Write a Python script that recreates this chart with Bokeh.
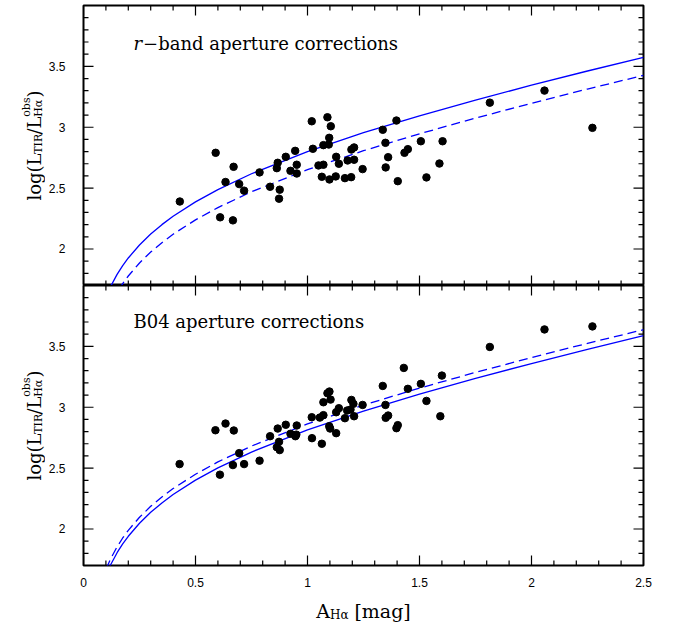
import math
from bokeh.plotting import figure
from bokeh.layouts import gridplot
from bokeh.models import FixedTicker, LinearAxis, Label, Range1d, CustomJSTickFormatter
from bokeh.embed import file_html
from bokeh.resources import INLINE

# ---------------- data ----------------
# top panel: r-band aperture corrections
A_R = [0.43, 0.59, 0.61, 0.634, 0.67, 0.667, 0.695, 0.717, 0.786, 0.833,
       0.867, 0.863, 0.876, 0.873, 0.903, 0.924, 0.945, 0.952, 0.952, 1.019,
       1.024, 1.049, 1.071, 1.064, 1.071, 1.089, 1.097, 1.095, 1.104, 1.098,
       1.126, 1.128, 1.140, 1.167, 1.179, 1.195, 1.196, 1.208, 1.208, 1.246,
       1.336, 1.397, 1.348, 1.360, 1.349, 1.403, 1.433, 1.448, 1.506, 1.531,
       1.589, 1.603, 1.814, 2.058, 2.272]
LOG_R = [2.39, 2.79, 2.26, 2.55, 2.675, 2.235, 2.533, 2.479, 2.629, 2.511,
         2.708, 2.664, 2.487, 2.413, 2.757, 2.642, 2.806, 2.692, 2.620, 3.049,
         2.823, 2.686, 2.692, 2.593, 2.853, 3.082, 2.913, 2.858, 3.008, 2.571,
         2.596, 2.757, 2.700, 2.582, 2.727, 2.590, 2.817, 2.834, 2.733, 2.656,
         2.979, 3.055, 2.872, 2.754, 2.670, 2.557, 2.790, 2.820, 2.885, 2.588,
         2.702, 2.885, 3.202, 3.301, 2.995]

# bottom panel: B04 aperture corrections
A_B = [0.429, 0.589, 0.634, 0.671, 0.609, 0.667, 0.695, 0.717, 0.786, 0.833,
       0.867, 0.863, 0.873, 0.876, 0.903, 0.924, 0.952, 0.946, 0.950, 1.019,
       1.020, 1.055, 1.071, 1.064, 1.071, 1.089, 1.098, 1.103, 1.097, 1.101,
       1.128, 1.128, 1.140, 1.167, 1.177, 1.196, 1.205, 1.208, 1.192, 1.246,
       1.336, 1.430, 1.348, 1.349, 1.360, 1.397, 1.403, 1.448, 1.506, 1.531,
       1.600, 1.593, 1.814, 2.058, 2.272]
LOG_B = [2.533, 2.811, 2.866, 2.809, 2.446, 2.525, 2.623, 2.533, 2.561, 2.762,
         2.825, 2.672, 2.716, 2.648, 2.856, 2.782, 2.850, 2.762, 2.775, 2.918,
         2.746, 2.915, 2.935, 2.700, 3.041, 3.115, 3.129, 3.063, 2.844, 2.825,
         2.787, 2.959, 2.992, 2.910, 2.973, 3.060, 3.028, 2.926, 2.981, 3.019,
         3.175, 3.323, 3.019, 2.913, 2.932, 2.828, 2.853, 3.151, 3.192, 3.052,
         3.260, 2.926, 3.495, 3.639, 3.664]

# model curves
A_CURVE = [0.08, 0.09, 0.10, 0.12, 0.15, 0.175, 0.2, 0.25, 0.3, 0.35, 0.4,
           0.5, 0.6, 0.75, 1.0, 1.25, 1.5, 1.75, 2.0, 2.25, 2.5]
R_SOLID = [1.503, 1.557, 1.604, 1.688, 1.791, 1.863, 1.926, 2.033, 2.123, 2.200, 2.269,
           2.387, 2.488, 2.618, 2.800, 2.955, 3.094, 3.223, 3.345, 3.462, 3.574]
R_DASHED = [1.355, 1.409, 1.456, 1.540, 1.643, 1.715, 1.778, 1.885, 1.975, 2.052, 2.121,
            2.239, 2.340, 2.470, 2.652, 2.807, 2.946, 3.075, 3.197, 3.314, 3.426]
B_SOLID = [1.517, 1.571, 1.618, 1.702, 1.805, 1.877, 1.940, 2.047, 2.137, 2.214, 2.283,
           2.401, 2.502, 2.632, 2.814, 2.969, 3.108, 3.237, 3.359, 3.476, 3.588]
B_DASHED = [1.566, 1.620, 1.667, 1.751, 1.854, 1.926, 1.989, 2.096, 2.186, 2.263, 2.332,
            2.450, 2.551, 2.681, 2.863, 3.018, 3.157, 3.286, 3.408, 3.525, 3.637]

X_TICKS = [0, 0.5, 1, 1.5, 2, 2.5]
Y_TICKS = [2, 2.5, 3, 3.5]
TITLE_TOP = ("r", "\u2212band aperture corrections")
TITLE_BOTTOM = "B04 aperture corrections"
X_LABEL = ("A", "H\u03b1", "[mag]")
Y_LABEL = ("log(", "L", "TIR", "/", "L", "obs", "H\u03b1", ")")

# ---------------- layout constants ----------------
X0, X1 = 0.0, 2.5
Y0, Y1 = 1.7, 4.0
FW, FH = 560, 280
STRIP_W = 45          # column holding the y-axis titles
AX_W = 38             # room for the y tick labels
RIGHT = 37
TOP = 5
BOT_AX = 30           # room for the x tick labels
XL_H = 628 - TOP - FH - FH - BOT_AX   # row holding the x-axis title
PXX = FW / (X1 - X0)
PXY = FH / (Y1 - Y0)
SERIF = "DejaVu Serif"
SANS = "Liberation Sans"
BLUE = "#0000ff"
MAJ_LEN, MIN_LEN = 10, 5

X_MINOR = [round(0.1 * i, 1) for i in range(0, 26)]
Y_MINOR = [round(1.7 + 0.1 * i, 1) for i in range(0, 24)]

EM = {'l': .320, 'o': .602, 'g': .640, '(': .390, ')': .390, 'L': .648, '/': .337,
      'T': .667, 'I': .372, 'R': .712, 'b': .640, 's': .513, 'H': .872, '\u03b1': .660,
      'A': .722, '[': .390, ']': .390, 'm': .948, 'a': .596, ' ': .318, 'r': .478}


def tw(t, size):
    return sum(EM.get(c, .6) for c in t) * size


def label_axis(p, loc):
    tk = FixedTicker(ticks=X_TICKS if loc == "below" else Y_TICKS)
    ax = LinearAxis(ticker=tk)
    ax.axis_line_color = None
    ax.major_tick_in = 0
    ax.major_tick_out = 0
    ax.minor_tick_in = 0
    ax.minor_tick_out = 0
    ax.formatter = CustomJSTickFormatter(code="return tick.toString();")
    ax.major_label_text_font = SANS
    ax.major_label_text_font_size = "12px"
    ax.major_label_text_color = "black"
    ax.major_label_standoff = 12 if loc == "below" else 18
    p.add_layout(ax, loc)


def add_ticks(p):
    x0s, y0s, x1s, y1s = [], [], [], []
    dy_maj, dy_min = MAJ_LEN / PXY, MIN_LEN / PXY
    dx_maj, dx_min = MAJ_LEN / PXX, MIN_LEN / PXX
    for x in X_MINOR:
        major = any(abs(x - t) < 1e-9 for t in X_TICKS)
        d = dy_maj if major else dy_min
        x0s += [x, x]; x1s += [x, x]
        y0s += [Y0, Y1]; y1s += [Y0 + d, Y1 - d]
    for y in Y_MINOR:
        major = any(abs(y - t) < 1e-9 for t in Y_TICKS)
        d = dx_maj if major else dx_min
        y0s += [y, y]; y1s += [y, y]
        x0s += [X0, X1]; x1s += [X0 + d, X1 - d]
    p.segment(x0s, y0s, x1s, y1s, line_color="black", line_width=1.2)


def base_fig(fw, fh, xr, yr, left, right, top, bottom):
    p = figure(frame_width=fw, frame_height=fh, x_range=xr, y_range=yr,
               x_axis_location=None, y_axis_location=None,
               output_backend="svg", toolbar_location=None,
               min_border_left=left, min_border_right=right,
               min_border_top=top, min_border_bottom=bottom)
    p.grid.visible = False
    p.background_fill_color = "white"
    p.border_fill_color = "white"
    return p


def make_panel(top):
    p = base_fig(FW, FH, Range1d(X0, X1), Range1d(Y0, Y1), AX_W, RIGHT,
                 TOP if top else 0, 0 if top else BOT_AX)
    p.outline_line_color = "black"
    p.outline_line_width = 2
    label_axis(p, "left")
    if not top:
        label_axis(p, "below")
    add_ticks(p)
    return p


def add_curves_points(p, solid, dashed, a, logv):
    p.line(A_CURVE, solid, line_color=BLUE, line_width=1.3)
    p.line(A_CURVE, dashed, line_color=BLUE, line_width=1.3, line_dash="9 5")
    p.scatter(a, logv, size=7.5, marker="circle", fill_color="black", line_color="black")


def yv(u):
    return Y0 + u / PXY


def xv(px_from_frame_left):
    return X0 + px_from_frame_left / PXX


# ---------------- top panel ----------------
p1 = make_panel(True)
add_curves_points(p1, R_SOLID, R_DASHED, A_R, LOG_R)
title_u = 242   # px above frame bottom
p1.add_layout(Label(x=xv(50), y=yv(title_u), text=TITLE_TOP[0], text_font=SERIF,
                    text_font_size="18px", text_font_style="italic", text_color="black",
                    text_baseline="alphabetic"))
p1.add_layout(Label(x=xv(50 + tw("r", 18) + 1), y=yv(title_u), text=TITLE_TOP[1],
                    text_font=SERIF, text_font_size="18px", text_color="black",
                    text_baseline="alphabetic"))

# ---------------- bottom panel ----------------
p2 = make_panel(False)
add_curves_points(p2, B_SOLID, B_DASHED, A_B, LOG_B)
p2.add_layout(Label(x=xv(50), y=yv(title_u + 2), text=TITLE_BOTTOM, text_font=SERIF,
                    text_font_size="18px", text_color="black", text_baseline="alphabetic"))


# ---------------- y-axis titles (left column) ----------------
def ylabel_strip(top):
    s = base_fig(STRIP_W, FH, Range1d(0, STRIP_W), Range1d(0, FH), 0, 0,
                 TOP if top else 0, 0 if top else BOT_AX)
    s.outline_line_color = None
    main, small = 18, 11
    base = 34
    items = [
        [(Y_LABEL[0], main, 0)],
        [(Y_LABEL[1], main, 0)],
        [(Y_LABEL[2], small, 4)],
        [(Y_LABEL[3], main, 0)],
        [(Y_LABEL[4], main, 0)],
        [(Y_LABEL[5], small, -8), (Y_LABEL[6], small, 4)],
        [(Y_LABEL[7], main, 0)],
    ]
    total = sum(max(tw(t, sz) for t, sz, _ in it) for it in items)
    y = FH / 2 - total / 2
    for it in items:
        for t, sz, off in it:
            s.add_layout(Label(x=base + off, y=y, text=t, angle=math.pi / 2,
                               text_font=SERIF, text_font_size=f"{sz}px",
                               text_color="black", text_align="left",
                               text_baseline="alphabetic"))
        y += max(tw(t, sz) for t, sz, _ in it)
    return s


ls1 = ylabel_strip(True)
ls2 = ylabel_strip(False)

# ---------------- x-axis title (bottom row) ----------------
bs = base_fig(FW, XL_H, Range1d(0, FW), Range1d(0, XL_H), AX_W, RIGHT, 0, 0)
bs.outline_line_color = None
xl_main, xl_small = 19, 12
gap = 6
widths = [tw(X_LABEL[0], xl_main), tw(X_LABEL[1], xl_small) + gap, tw(X_LABEL[2], xl_main)]
start = FW / 2 - sum(widths) / 2
base_y = XL_H - 15
bs.add_layout(Label(x=start, y=base_y, text=X_LABEL[0], text_font=SERIF,
                    text_font_size=f"{xl_main}px", text_color="black", text_baseline="alphabetic"))
bs.add_layout(Label(x=start + widths[0], y=base_y - 4, text=X_LABEL[1], text_font=SERIF,
                    text_font_size=f"{xl_small}px", text_color="black", text_baseline="alphabetic"))
bs.add_layout(Label(x=start + widths[0] + widths[1], y=base_y, text=X_LABEL[2],
                    text_font=SERIF, text_font_size=f"{xl_main}px", text_color="black",
                    text_baseline="alphabetic"))

layout = gridplot([[ls1, p1], [ls2, p2], [None, bs]], toolbar_location=None)
open("out.html", "w").write(file_html(layout, INLINE))
